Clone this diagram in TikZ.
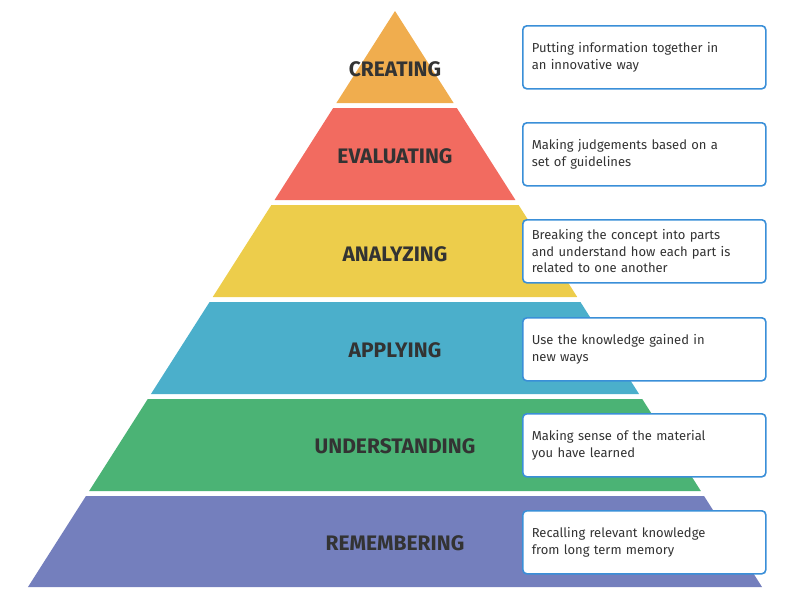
\documentclass[tikz,border=0pt]{standalone}
\usepackage{fontspec}
\setmainfont{Fira Sans}
\definecolor{cO}{HTML}{F0AD4E}
\definecolor{cR}{HTML}{F26B60}
\definecolor{cY}{HTML}{EDCD4B}
\definecolor{cB}{HTML}{4BAFCB}
\definecolor{cG}{HTML}{4BB375}
\definecolor{cP}{HTML}{747FBD}
\definecolor{cE}{HTML}{3A8FD8}
\definecolor{txt}{HTML}{333333}
\begin{document}
\begin{tikzpicture}[x=1pt,y=-1pt,
  lbl/.style={font=\fontsize{21}{24}\selectfont\bfseries, text=txt},
  desc/.style={draw=cE, line width=1.6pt, rounded corners=4pt, fill=white, minimum width=243pt, minimum height=63pt, anchor=north west, align=left, text width=225pt, inner xsep=9pt, font=\fontsize{13}{16.5}\selectfont, text=txt}]
\useasboundingbox (0,0) rectangle (800,600);
\def\hw#1{(#1-11)*0.6372}
\foreach \t/\b/\c in {11/103/cO,108/200/cR,205/297/cY,302/394/cB,399/491/cG,496/587/cP}{
  \fill[\c] ({395-\hw{\t}},\t) -- ({395+\hw{\t}},\t) -- ({395+\hw{\b}},\b) -- ({395-\hw{\b}},\b) -- cycle;
}
\node[lbl] (l1) at (395,69) {CREATING};
\node[lbl] (l2) at (395,156) {EVALUATING};
\node[lbl] (l3) at (395,254) {ANALYZING};
\node[lbl] (l4) at (395,350) {APPLYING};
\node[lbl] (l5) at (395,446) {UNDERSTANDING};
\node[lbl] (l6) at (395,543) {REMEMBERING};
\node[desc] (d1) at (522,25) {Putting information together in\\an innovative way};
\node[desc] (d2) at (522,122) {Making judgements based on a\\set of guidelines};
\node[desc] (d3) at (522,219) {Breaking the concept into parts\\and understand how each part is\\related to one another};
\node[desc] (d4) at (522,317) {Use the knowledge gained in\\new ways};
\node[desc] (d5) at (522,413) {Making sense of the material\\you have learned};
\node[desc] (d6) at (522,510) {Recalling relevant knowledge\\from long term memory};
\end{tikzpicture}
\end{document}
